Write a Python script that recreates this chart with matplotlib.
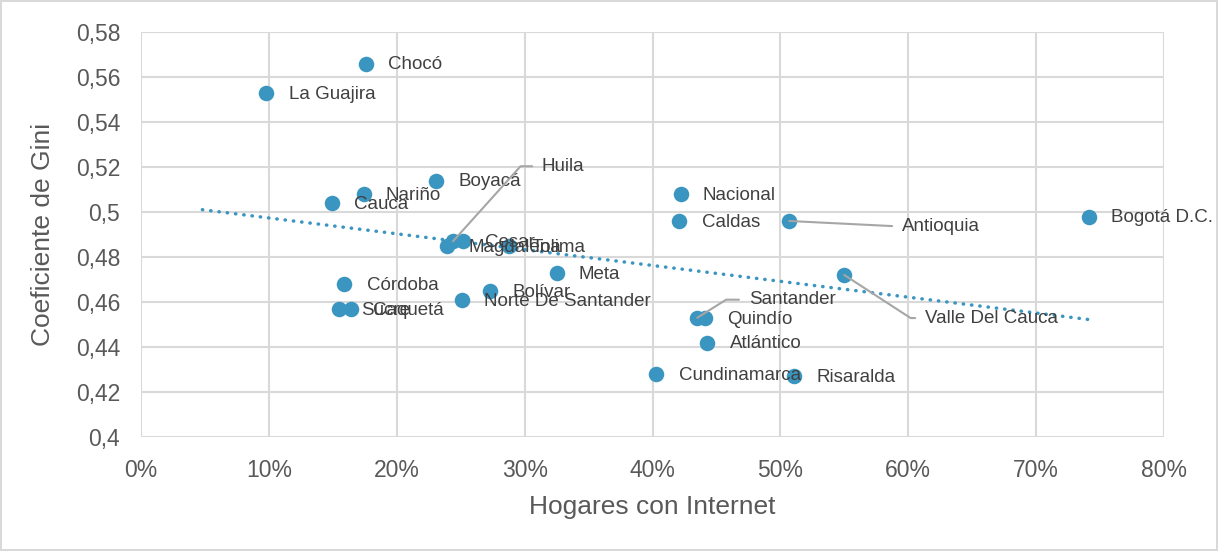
import numpy as np
import matplotlib
matplotlib.use("Agg")
import matplotlib.pyplot as plt
from matplotlib.ticker import FuncFormatter

# datos
deptos = ["Chocó", "La Guajira", "Boyacá", "Nariño", "Cauca", "Nacional", "Caldas",
          "Antioquia", "Bogotá D.C.", "Huila", "Magdalena", "Cesar", "Tolima", "Meta",
          "Córdoba", "Sucre", "Caquetá", "Bolívar", "Norte De Santander", "Santander",
          "Quindío", "Atlántico", "Cundinamarca", "Risaralda", "Valle Del Cauca"]
internet = [17.6, 9.8, 23.1, 17.4, 14.9, 42.2, 42.1,
            50.7, 74.1, 24.4, 23.9, 25.2, 28.8, 32.5,
            15.9, 15.5, 16.4, 27.3, 25.1, 43.5,
            44.1, 44.3, 40.3, 51.1, 55.0]
gini = [0.566, 0.553, 0.514, 0.508, 0.504, 0.508, 0.496,
        0.496, 0.498, 0.487, 0.485, 0.487, 0.485, 0.473,
        0.468, 0.457, 0.457, 0.465, 0.461, 0.453,
        0.453, 0.442, 0.428, 0.427, 0.472]

# etiquetas con linea guia: (dx, dy en puntos, angulo de la guia)
guias = {"Huila": (64, 54, 48), "Antioquia": (81, -4, None),
         "Valle Del Cauca": (58, -31, -33), "Santander": (37, 13, 32)}

azul = "#3A96C0"
gris = "#404040"
plt.rcParams["font.family"] = ["Liberation Sans", "DejaVu Sans"]

fig = plt.figure(figsize=(12.18, 5.51), dpi=100)
fig.patch.set_edgecolor("#D9D9D9")
fig.patch.set_linewidth(1.5)
ax = fig.add_axes([141/1218, 1-437/551, (1164-141)/1218, (437-32)/551])

# linea de tendencia lineal
m, b = np.polyfit(internet, gini, 1)
xt = np.array([min(internet) - 5, max(internet)])
ax.plot(xt, m*xt + b, color=azul, lw=2.5, linestyle=(0, (0.1, 2.3)),
        dash_capstyle="round", zorder=2)

ax.scatter(internet, gini, s=125, color=azul, zorder=3, linewidths=0)

for d, xv, yv in zip(deptos, internet, gini):
    if d in guias:
        dx, dy, ang = guias[d]
        if ang is None:
            cs = "arc3"
        else:
            cs = "angle,angleA=0,angleB=%d,rad=0" % ang
        ax.annotate(d, (xv, yv), xytext=(dx, dy), textcoords="offset points",
                    ha="left", va="center", fontsize=13.5, color=gris, zorder=4,
                    arrowprops=dict(arrowstyle="-", color="#A6A6A6", lw=1.5,
                                    connectionstyle=cs, relpos=(0, 0.5),
                                    shrinkA=5, shrinkB=0))
    else:
        ax.annotate(d, (xv, yv), xytext=(16, -1), textcoords="offset points",
                    ha="left", va="center", fontsize=13.5, color=gris, zorder=4)

ax.set_xlim(0, 80)
ax.set_ylim(0.4, 0.58)
ax.set_xticks(np.arange(0, 81, 10))
ax.set_yticks(np.arange(0.4, 0.581, 0.02))
ax.xaxis.set_major_formatter(FuncFormatter(lambda v, p: "%d%%" % round(v)))
ax.yaxis.set_major_formatter(
    FuncFormatter(lambda v, p: ("%.2f" % v).rstrip("0").rstrip(".").replace(".", ",")))
ax.grid(True, color="#D9D9D9", lw=1.5)
ax.set_axisbelow(True)
for s in ax.spines.values():
    s.set_visible(False)
ax.tick_params(length=0, labelsize=16.5, labelcolor="#595959")
ax.tick_params(axis="x", pad=16)
ax.tick_params(axis="y", pad=15)

ax.set_xlabel("Hogares con Internet", fontsize=19, color="#595959", labelpad=9)
ax.set_ylabel("Coeficiente de Gini", fontsize=19, color="#595959", labelpad=15)

fig.savefig("out.png", dpi=100)
